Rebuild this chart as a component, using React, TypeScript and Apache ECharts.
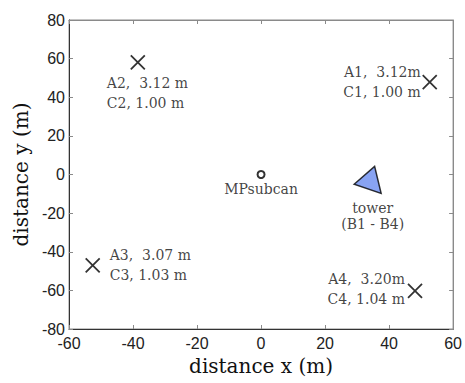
import React, { useEffect, useRef } from "react";
import * as echarts from "echarts";

// ---- data ----
const anchorX = [52.7, -38.5, -52.6, 48.1];
const anchorY = [47.8, 58.0, -47.0, -60.3];
const anchorLineA = ["A1,  3.12m", "A2,  3.12 m", "A3,  3.07 m", "A4,  3.20m"];
const anchorLineC = ["C1, 1.00 m", "C2, 1.00 m", "C3, 1.03 m", "C4, 1.04 m"];

const subcanX = [0];
const subcanY = [0];
const subcanName = ["MPsubcan"];

const towerX = [33.3];
const towerY = [-2.8];
const towerName = ["tower", "(B1 - B4)"];

const xTicks = { min: -60, max: 60, step: 20 };
const yTicks = { min: -80, max: 80, step: 20 };

// ---- layout (label placement relative to markers) ----
const anchorLabelLayout = [
  { align: "right", offset: [-9, 0] },
  { align: "left", offset: [-31, 31] },
  { align: "left", offset: [17, 0] },
  { align: "right", offset: [-10, -2] },
];

const SERIF = "DejaVu Serif";
const SANS = "Liberation Sans";

export default function App() {
  const ref = useRef<HTMLDivElement>(null);
  useEffect(() => {
    if (!ref.current) return;
    const chart = echarts.init(ref.current, null, { renderer: "svg" });
    const gray = "#8a8a8a";
    const dark = "#333";
    const baseLabel = {
      fontFamily: SERIF,
      fontSize: 14,
      color: "#111",
    };
    chart.setOption({
      animation: false,
      backgroundColor: "#fff",
      grid: {
        left: 69,
        right: 11,
        top: 20,
        bottom: 54,
        show: true,
        borderColor: gray,
        borderWidth: 1,
        backgroundColor: "transparent",
      },
      xAxis: [
        {
          type: "value",
          min: xTicks.min,
          max: xTicks.max,
          interval: xTicks.step,
          name: "distance x (m)",
          nameLocation: "middle",
          nameGap: 27,
          nameTextStyle: { fontFamily: SERIF, fontSize: 20, color: "#111" },
          axisLine: { show: true, onZero: false, lineStyle: { color: dark, width: 1 } },
          axisTick: { show: true, inside: true, length: 4, lineStyle: { color: gray } },
          axisLabel: { fontFamily: SANS, fontSize: 16, color: "#222", margin: 6 },
          splitLine: { show: false },
        },
        {
          type: "value",
          position: "top",
          min: xTicks.min,
          max: xTicks.max,
          interval: xTicks.step,
          axisLine: { show: true, onZero: false, lineStyle: { color: gray, width: 1 } },
          axisTick: { show: true, inside: true, length: 4, lineStyle: { color: gray } },
          axisLabel: { show: false },
          splitLine: { show: false },
        },
      ],
      yAxis: [
        {
          type: "value",
          min: yTicks.min,
          max: yTicks.max,
          interval: yTicks.step,
          name: "distance y (m)",
          nameLocation: "middle",
          nameGap: 36,
          nameTextStyle: { fontFamily: SERIF, fontSize: 20, color: "#111" },
          axisLine: { show: true, onZero: false, lineStyle: { color: dark, width: 1 } },
          axisTick: { show: true, inside: true, length: 4, lineStyle: { color: gray } },
          axisLabel: { fontFamily: SANS, fontSize: 16, color: "#222", margin: 4 },
          splitLine: { show: false },
        },
        {
          type: "value",
          position: "right",
          min: yTicks.min,
          max: yTicks.max,
          interval: yTicks.step,
          axisLine: { show: true, onZero: false, lineStyle: { color: gray, width: 1 } },
          axisTick: { show: true, inside: true, length: 4, lineStyle: { color: gray } },
          axisLabel: { show: false },
          splitLine: { show: false },
        },
      ],
      series: [
        {
          type: "scatter",
          xAxisIndex: 0,
          yAxisIndex: 0,
          symbol: "path://M0,0L10,10M10,0L0,10",
          symbolSize: 14,
          itemStyle: { color: "transparent", borderColor: "#000", borderWidth: 1.8 },
          data: anchorX.map((x, i) => ({
            value: [x, anchorY[i]],
            label: {
              show: true,
              position: "inside",
              align: anchorLabelLayout[i].align,
              verticalAlign: "middle",
              offset: anchorLabelLayout[i].offset,
              lineHeight: 20,
              ...baseLabel,
              formatter: anchorLineA[i] + "\n" + anchorLineC[i],
            },
          })),
        },
        {
          type: "scatter",
          xAxisIndex: 0,
          yAxisIndex: 0,
          symbol: "circle",
          symbolSize: 7,
          itemStyle: { color: "#fff", borderColor: "#000", borderWidth: 2 },
          data: subcanX.map((x, i) => ({
            value: [x, subcanY[i]],
            label: {
              show: true,
              position: "inside",
              align: "center",
              verticalAlign: "middle",
              offset: [0, 14],
              ...baseLabel,
              formatter: subcanName[i],
            },
          })),
        },
        {
          type: "scatter",
          xAxisIndex: 0,
          yAxisIndex: 0,
          symbol: "path://M355,184L375.7,165.7L382.3,193.3Z",
          symbolSize: [27, 27],
          itemStyle: { color: "#6a8cf0", borderColor: "#000", borderWidth: 1.5 },
          data: towerX.map((x, i) => ({
            value: [x, towerY[i]],
            label: {
              show: true,
              position: "inside",
              align: "center",
              verticalAlign: "middle",
              offset: [5, 36],
              lineHeight: 16,
              ...baseLabel,
              formatter: towerName.join("\n"),
            },
          })),
        },
      ],
    });
    return () => chart.dispose();
  }, []);
  return (
    <div
      ref={ref}
      style={{ position: "absolute", left: 0, top: 0, width: 465, height: 383 }}
    />
  );
}
